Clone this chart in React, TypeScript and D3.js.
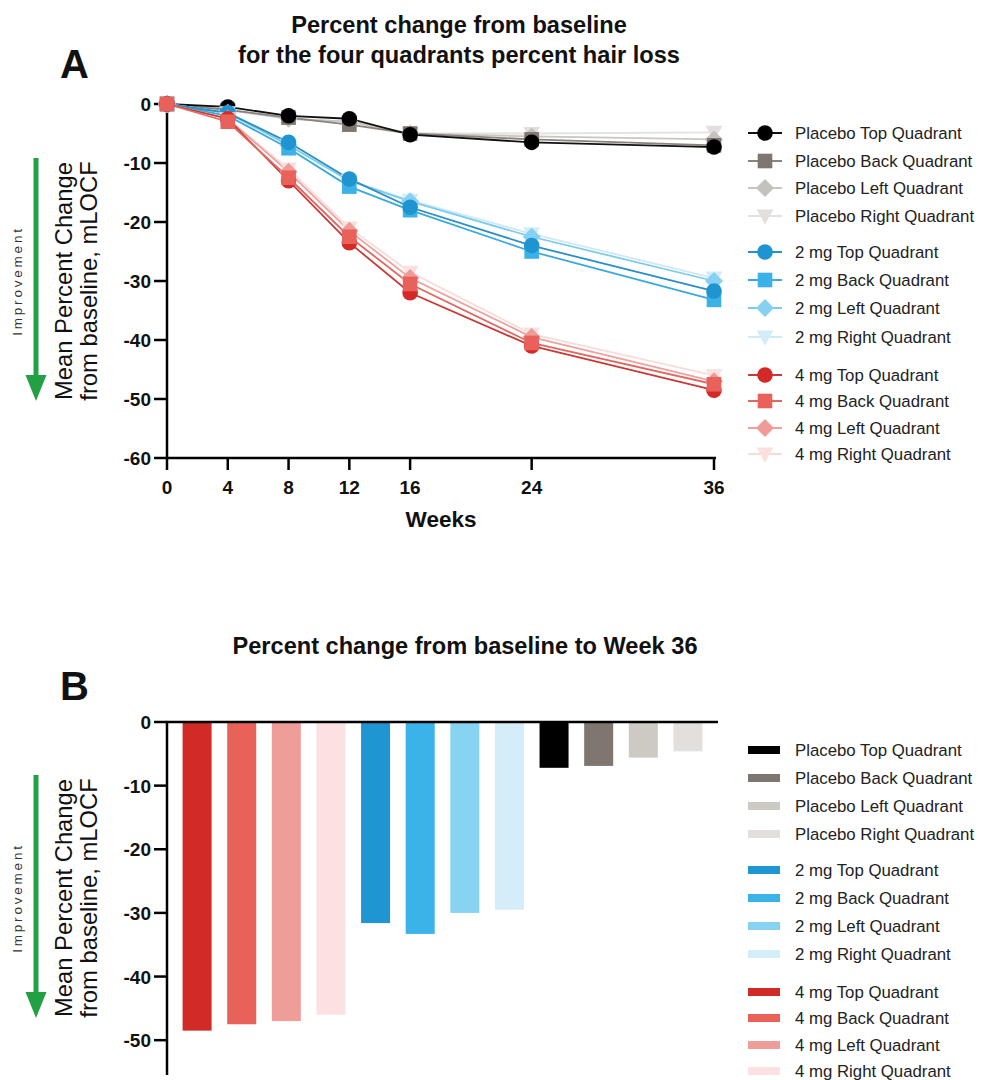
import React from "react";
import * as d3 from "d3";

const weeks = [0, 4, 8, 12, 16, 24, 36];
const seriesNames = [
  "Placebo Top Quadrant", "Placebo Back Quadrant", "Placebo Left Quadrant", "Placebo Right Quadrant",
  "2 mg Top Quadrant", "2 mg Back Quadrant", "2 mg Left Quadrant", "2 mg Right Quadrant",
  "4 mg Top Quadrant", "4 mg Back Quadrant", "4 mg Left Quadrant", "4 mg Right Quadrant",
];
const placeboTop = [0, -0.5, -2, -2.5, -5.2, -6.5, -7.3];
const placeboBack = [0, -1, -2.3, -3.5, -5, -6, -7];
const placeboLeft = [0, -1, -2.5, -3, -5, -5.5, -6];
const placeboRight = [0, -1, -2.5, -3, -5, -5, -4.8];
const mg2Top = [0, -1.5, -6.5, -12.7, -17.5, -24, -31.7];
const mg2Back = [0, -2, -7.5, -14, -18, -25, -33.2];
const mg2Left = [0, -1.5, -7, -13, -16.5, -22.5, -30];
const mg2Right = [0, -1.5, -7, -13, -16.3, -22, -29.5];
const mg4Top = [0, -2.5, -13, -23.5, -32, -41, -48.5];
const mg4Back = [0, -3, -12.5, -22.5, -30.5, -40.5, -47.5];
const mg4Left = [0, -2.5, -11.5, -21.5, -29.5, -39.5, -47];
const mg4Right = [0, -2.5, -11, -21, -28.5, -39, -46];

const barCategories = [
  "4 mg Top Quadrant", "4 mg Back Quadrant", "4 mg Left Quadrant", "4 mg Right Quadrant",
  "2 mg Top Quadrant", "2 mg Back Quadrant", "2 mg Left Quadrant", "2 mg Right Quadrant",
  "Placebo Top Quadrant", "Placebo Back Quadrant", "Placebo Left Quadrant", "Placebo Right Quadrant",
];
const barValues = [-48.5, -47.5, -47, -46, -31.6, -33.3, -30, -29.5, -7.2, -6.9, -5.6, -4.6];

const yTicksA = [0, -10, -20, -30, -40, -50, -60];
const yTicksB = [0, -10, -20, -30, -40, -50];

const seriesData = [placeboTop, placeboBack, placeboLeft, placeboRight, mg2Top, mg2Back, mg2Left, mg2Right, mg4Top, mg4Back, mg4Left, mg4Right];
const seriesColors = [
  "#000000", "#7e766f", "#c4c2be", "#e2dfdc",
  "#1e94d0", "#3ab1e7", "#86d1f1", "#d3ecf8",
  "#d42a27", "#e8615a", "#ef9b97", "#fbe0e0",
];
const lineColors = [
  "#111111", "#8a827c", "#c8c6c2", "#e4e2df",
  "#2b8fc4", "#3aa9dc", "#7ccbec", "#cfe9f6",
  "#c93a37", "#de6a63", "#eda29e", "#f8dcdc",
];
const barColors = [
  "#d22b27", "#e8625a", "#ef9d98", "#fbe1e1",
  "#1f95d2", "#3cb3e8", "#88d2f2", "#d5edf9",
  "#000000", "#7e766f", "#cdcac4", "#e2dfdc",
];
const shapes = ["circle", "square", "diamond", "tri", "circle", "square", "diamond", "tri", "circle", "square", "diamond", "tri"];

const FONT = "'Liberation Sans', Arial, sans-serif";

function Marker({ shape, x, y, fill }: { shape: string; x: number; y: number; fill: string }) {
  if (shape === "circle") return <circle cx={x} cy={y} r={7.8} fill={fill} />;
  if (shape === "square") return <rect x={x - 7.3} y={y - 7.3} width={14.6} height={14.6} fill={fill} />;
  if (shape === "diamond") return <path d={`M${x},${y - 9}L${x + 9},${y}L${x},${y + 9}L${x - 9},${y}Z`} fill={fill} />;
  return <path d={`M${x - 8.5},${y - 6.5}L${x + 8.5},${y - 6.5}L${x},${y + 8.5}Z`} fill={fill} />;
}

function YLabel({ cy }: { cy: number }) {
  return (
    <g>
      <rect x={33.5} y={cy - 123} width={5} height={220} fill="#22a043" />
      <path d={`M${25.5},${cy + 94}L${46.5},${cy + 94}L36,${cy + 120}Z`} fill="#22a043" />
      <text transform={`translate(22,${cy}) rotate(-90)`} textAnchor="middle" fontFamily={FONT} fontSize={13.5} letterSpacing={2.8} fill="#333">Improvement</text>
      <text transform={`translate(72,${cy}) rotate(-90)`} textAnchor="middle" fontFamily={FONT} fontSize={23.8} fill="#111">Mean Percent Change</text>
      <text transform={`translate(97,${cy}) rotate(-90)`} textAnchor="middle" fontFamily={FONT} fontSize={23.8} fill="#111">from baseline, mLOCF</text>
    </g>
  );
}

export default function App() {
  // Panel A
  const xA = d3.scaleLinear().domain([0, 36]).range([167, 714]);
  const yA = d3.scaleLinear().domain([-60, 0]).range([458, 104]);
  const line = d3.line<number>().x((_, i) => xA(weeks[i])).y((d) => yA(d));

  // Panel B
  const xB = d3.scaleBand<string>().domain(barCategories).range([175, 710]).paddingInner(0.35).paddingOuter(0.17);
  const yB = d3.scaleLinear().domain([-55, 0]).range([1072, 722]);

  const drawOrder = [3, 2, 1, 0, 7, 6, 5, 4, 11, 10, 8, 9];
  const legendAY = [133, 161, 188, 216, 252, 280, 308, 337, 375, 401, 428, 454];
  const legendBY = [750, 778, 806, 834, 870, 898, 926, 954, 992, 1018, 1045, 1071];

  return (
    <svg width={983} height={1080} style={{ position: "absolute", left: 0, top: 0, background: "#fff" }}>
      {/* Panel A titles */}
      <text x={459} y={33} textAnchor="middle" fontFamily={FONT} fontWeight="bold" fontSize={23.6} fill="#111">Percent change from baseline</text>
      <text x={459} y={63} textAnchor="middle" fontFamily={FONT} fontWeight="bold" fontSize={23.6} fill="#111">for the four quadrants percent hair loss</text>
      <text x={60} y={78} fontFamily={FONT} fontWeight="bold" fontSize={40} fill="#111">A</text>

      {/* Panel A axes */}
      <line x1={167} x2={167} y1={104} y2={459} stroke="#000" strokeWidth={2.5} />
      <line x1={166} x2={716} y1={458} y2={458} stroke="#000" strokeWidth={2.5} />
      {yTicksA.map((t) => (
        <g key={t}>
          <line x1={154} x2={167} y1={yA(t)} y2={yA(t)} stroke="#000" strokeWidth={2.5} />
          <text x={151} y={yA(t) + 7} textAnchor="end" fontFamily={FONT} fontWeight="bold" fontSize={19} fill="#111">{t}</text>
        </g>
      ))}
      {weeks.map((w) => (
        <g key={w}>
          <line x1={xA(w)} x2={xA(w)} y1={458} y2={470} stroke="#000" strokeWidth={2.5} />
          <text x={xA(w)} y={494} textAnchor="middle" fontFamily={FONT} fontWeight="bold" fontSize={19} fill="#111">{w}</text>
        </g>
      ))}
      <text x={441} y={527} textAnchor="middle" fontFamily={FONT} fontWeight="bold" fontSize={22.5} fill="#111">Weeks</text>
      <YLabel cy={281} />

      {/* Panel A lines */}
      {drawOrder.map((i) => (
        <path key={"l" + i} d={line(seriesData[i]) || ""} fill="none" stroke={lineColors[i]} strokeWidth={1.8} />
      ))}
      {drawOrder.map((i) => (
        <g key={"m" + i}>
          {seriesData[i].map((v, j) => (
            <Marker key={j} shape={shapes[i]} x={xA(weeks[j])} y={yA(v)} fill={seriesColors[i]} />
          ))}
        </g>
      ))}

      {/* Panel A legend */}
      {seriesNames.map((n, i) => (
        <g key={"la" + i}>
          <line x1={748} x2={782} y1={legendAY[i]} y2={legendAY[i]} stroke={lineColors[i]} strokeWidth={1.8} />
          <Marker shape={shapes[i]} x={765} y={legendAY[i]} fill={seriesColors[i]} />
          <text x={795} y={legendAY[i] + 6} fontFamily={FONT} fontSize={16.8} fill="#222">{n}</text>
        </g>
      ))}

      {/* Panel B titles */}
      <text x={465} y={654} textAnchor="middle" fontFamily={FONT} fontWeight="bold" fontSize={23.6} fill="#111">Percent change from baseline to Week 36</text>
      <text x={60} y={700} fontFamily={FONT} fontWeight="bold" fontSize={40} fill="#111">B</text>

      {/* Panel B bars */}
      {barCategories.map((c, i) => (
        <rect key={c} x={xB(c)} y={yB(0)} width={xB.bandwidth()} height={yB(barValues[i]) - yB(0)} fill={barColors[i]} />
      ))}

      {/* Panel B axes */}
      <line x1={167} x2={167} y1={721} y2={1075} stroke="#000" strokeWidth={2.5} />
      <line x1={166} x2={718} y1={722} y2={722} stroke="#000" strokeWidth={2.5} />
      {yTicksB.map((t) => (
        <g key={t}>
          <line x1={154} x2={167} y1={yB(t)} y2={yB(t)} stroke="#000" strokeWidth={2.5} />
          <text x={151} y={yB(t) + 7} textAnchor="end" fontFamily={FONT} fontWeight="bold" fontSize={19} fill="#111">{t}</text>
        </g>
      ))}
      <YLabel cy={898} />

      {/* Panel B legend */}
      {seriesNames.map((name, i) => {
        const bi = barCategories.indexOf(name);
        return (
          <g key={"lb" + i}>
            <rect x={748} y={legendBY[i] - 4} width={32} height={8} fill={barColors[bi]} />
            <text x={795} y={legendBY[i] + 6} fontFamily={FONT} fontSize={16.8} fill="#222">{name}</text>
          </g>
        );
      })}
    </svg>
  );
}
